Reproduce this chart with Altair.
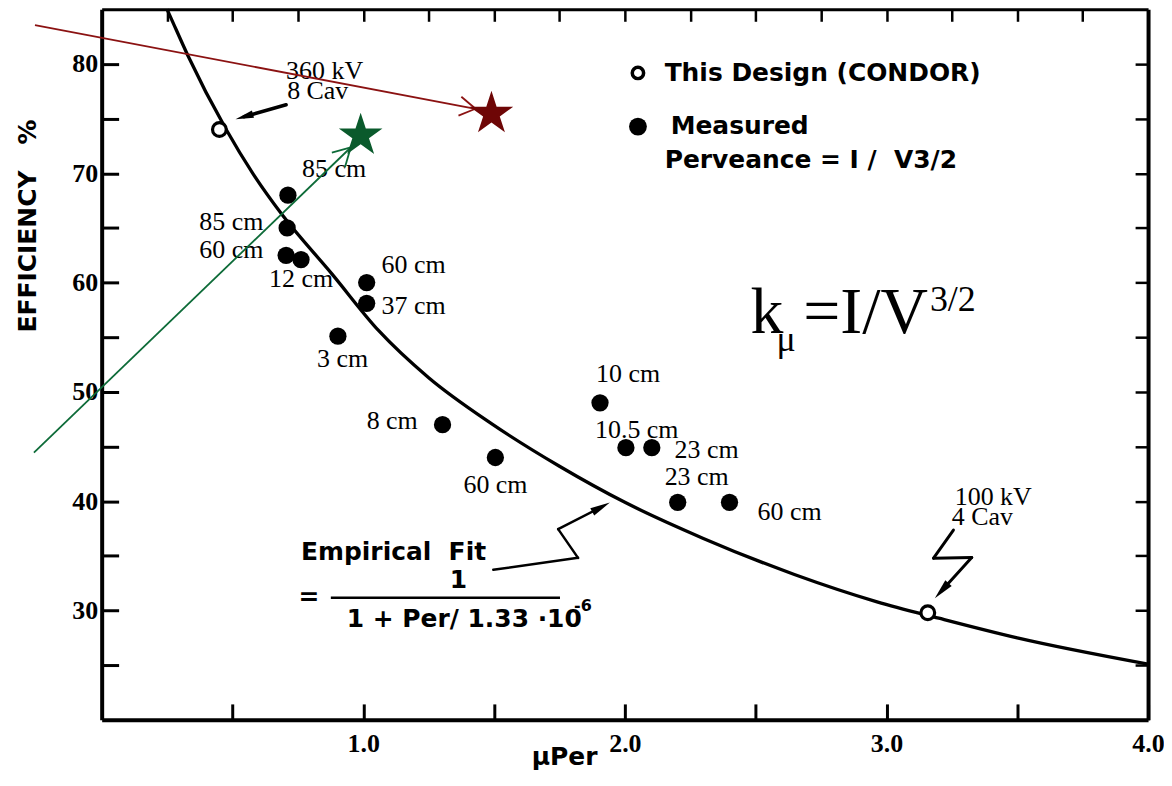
import altair as alt
import pandas as pd

# ---------------- data ----------------
# empirical fit curve
curve_x = [0.250, 0.265, 0.328, 0.476, 0.580, 0.690, 0.880, 1.059, 1.250, 1.490, 1.750, 2.000, 2.300, 2.648, 2.964, 3.200, 3.500, 4.000]
curve_y = [85.0, 84.2, 80.85, 74.0, 69.9, 66.2, 60.8, 55.6, 51.3, 47.1, 43.2, 39.9, 36.6, 33.3, 30.8, 29.3, 27.5, 25.1]

# measured tubes (filled dots)
measured_x = [0.712, 0.709, 0.705, 0.762, 1.013, 1.013, 0.903, 1.303, 1.505, 1.905, 2.004, 2.103, 2.202, 2.400]
measured_y = [68.0, 65.0, 62.5, 62.1, 60.0, 58.1, 55.1, 47.0, 44.0, 49.0, 44.9, 44.9, 39.9, 39.9]
measured_text = ["85 cm", "85 cm", "60 cm", "12 cm", "60 cm", "37 cm", "3 cm", "8 cm", "60 cm",
                 "10 cm", "10.5 cm", "23 cm", "23 cm", "60 cm"]
measured_lx = [0.766, 0.373, 0.373, 0.640, 1.070, 1.070, 0.823, 1.013, 1.383, 1.890, 1.886, 2.190, 2.152, 2.507]
measured_ly = [70.36, 65.55, 63.00, 60.36, 61.60, 57.90, 53.00, 47.36, 41.50, 51.60, 46.50, 44.70, 42.20, 39.00]

# this design (open circles)
design_x = [0.45, 3.158]
design_y = [74.0, 29.8]
design_text = ["360 kV", "8 Cav", "100 kV", "4 Cav"]
design_lx = [0.705, 0.709, 3.261, 3.250]
design_ly = [79.40, 77.55, 40.36, 38.55]

# axes ticks
x_bottom_ticks = [0.5, 1.0, 1.5, 2.0, 2.5, 3.0, 3.5, 4.0]
x_top_ticks = [0.25, 0.5, 0.75, 1.0, 1.25, 1.5, 1.75, 2.0, 2.25, 2.5, 2.75, 3.0, 3.25, 3.5, 3.75]
y_ticks = [25, 30, 35, 40, 45, 50, 55, 60, 65, 70, 75, 80]

NB = "\u00a0"
# legend
legend_mark_x = [2.05, 2.05]
legend_mark_y = [79.18, 74.27]
legend_text = ["This Design (CONDOR)", "Measured", "Perveance = I /" + NB + NB + "V3/2"]
legend_lx = [2.152, 2.175, 2.152]
legend_ly = [79.18, 74.36, 71.18]

# empirical fit annotation
fit_text = ["Empirical" + NB + NB + "Fit", "=", "1 + Per/ 1.33 \u00b710"]
fit_lx = [0.762, 0.752, 0.937]
fit_ly = [35.36, 31.27, 29.18]
fit_num_x, fit_num_y = [1.364], [32.80]
fit_exp_x, fit_exp_y = [1.806], [30.45]
fit_bar = {"x": [0.876], "y": [31.18], "x2": [1.752], "y2": [31.18]}

# k_mu = I/V^3/2 formula
kmu_big_text, kmu_big_x, kmu_big_y = ["k", "=I/V"], [2.480, 2.682], [55.36, 55.36]
kmu_small_text, kmu_small_x, kmu_small_y = ["\u03bc", "3/2"], [2.580, 3.166], [53.73, 57.36]

# black arrows (segments) and their heads
arrow_x1 = [0.705, 3.256, 3.180, 3.326, 1.497, 1.821, 1.745]
arrow_y1 = [76.27, 37.36, 34.79, 34.85, 33.73, 34.82, 37.45]
arrow_x2 = [0.545, 3.180, 3.326, 3.211, 1.821, 1.745, 1.909]
arrow_y2 = [75.18, 34.79, 34.85, 31.82, 34.82, 37.45, 39.45]
arrow_w = [3.5, 3.0, 3.0, 3.0, 2.5, 2.5, 2.5]
head_x = [0.545, 3.211, 1.909]
head_y = [75.18, 31.82, 39.45]
head_angle = [164, 132, 332]
head_size = [330, 420, 400]

# coloured overlay arrows and stars
red_x1 = [-0.255, 1.375, 1.364]
red_y1 = [83.55, 77.00, 75.27]
red_x2 = [1.429, 1.429, 1.429]
red_y2 = [75.90, 75.90, 75.90]
green_x1 = [-0.259, 0.880, 0.930]
green_y1 = [44.45, 71.90, 70.55]
green_x2 = [0.952, 0.952, 0.952]
green_y2 = [72.36, 72.36, 72.36]
star_x = [1.490, 0.990]
star_y = [75.45, 73.45]
star_color = ["#6e0606", "#0a5a2c"]

# ---------------- chart ----------------
SERIF = "Liberation Serif"
SANS = "DejaVu Sans"
xs = alt.Scale(domain=[0, 4], nice=False, zero=False)
ys = alt.Scale(domain=[20, 85], nice=False, zero=False)
STAR = ("M0,-1L0.2245,-0.309L0.951,-0.309L0.363,0.118L0.588,0.809L0,0.382"
        "L-0.588,0.809L-0.363,0.118L-0.951,-0.309L-0.2245,-0.309Z")
HEAD = "M1,0L-1,-0.42L-1,0.42Z"


def X(f="x"):
    return alt.X(f"{f}:Q", scale=xs, axis=None)


def Y(f="y"):
    return alt.Y(f"{f}:Q", scale=ys, axis=None)


def text_layer(xv, yv, tv, font, size, weight="normal", align="left", baseline="middle", color="black"):
    df = pd.DataFrame({"x": xv, "y": yv, "t": tv})
    return alt.Chart(df).mark_text(font=font, fontSize=size, fontWeight=weight, align=align,
                                   baseline=baseline, color=color).encode(x=X(), y=Y(), text="t:N")


curve_df = pd.DataFrame({"x": curve_x, "y": curve_y})

x_bottom_axis = alt.Axis(
    orient="bottom", values=x_bottom_ticks,
    labelExpr="datum.value % 1 === 0 ? format(datum.value, '.1f') : ''",
    tickSize={"expr": "-16"}, tickWidth=3, tickColor="black",
    domainWidth=4, domainColor="black", grid=False,
    labelFont=SERIF, labelFontWeight="bold", labelFontSize=26, labelColor="black",
    labelPadding=40, labelBaseline="middle", labelFlush=False, labelOverlap=False,
    title="\u03bcPer", titleFont=SANS, titleFontWeight="bold", titleFontSize=25, titleColor="black",
    titleX=464, titleY=37, titleAlign="center", titleBaseline="middle",
)
y_left_axis = alt.Axis(
    orient="left", values=y_ticks,
    labelExpr="datum.value % 10 === 0 ? format(datum.value, 'd') : ''",
    tickSize={"expr": "-17"}, tickWidth=3, tickColor="black",
    domainWidth=4, domainColor="black", grid=False,
    labelFont=SERIF, labelFontWeight="bold", labelFontSize=26, labelColor="black",
    labelPadding=21, labelFlush=False, labelOverlap=False,
    title="EFFICIENCY" + NB + NB + NB + "%", titleFont=SANS, titleFontWeight="bold", titleFontSize=25,
    titleColor="black",
    titleAngle=270, titleX=-74, titleY=217, titleAlign="center", titleBaseline="middle",
)
x_top_axis = alt.Axis(orient="top", values=x_top_ticks, labels=False, title=None,
                      tickSize={"expr": "-12"}, tickWidth=2.5, tickColor="black",
                      domainWidth=3, domainColor="black", grid=False)
y_right_axis = alt.Axis(orient="right", values=y_ticks, labels=False, title=None,
                        tickSize={"expr": "-13"}, tickWidth=2.5, tickColor="black",
                        domainWidth=4, domainColor="black", grid=False)

curve = alt.Chart(curve_df).mark_line(color="black", strokeWidth=3.3, interpolate="monotone").encode(
    x=alt.X("x:Q", scale=xs, axis=x_bottom_axis),
    y=alt.Y("y:Q", scale=ys, axis=y_left_axis),
)
frame = alt.Chart(curve_df).mark_point(opacity=0).encode(
    x=alt.X("x:Q", scale=xs, axis=x_top_axis),
    y=alt.Y("y:Q", scale=ys, axis=y_right_axis),
)

measured = alt.Chart(pd.DataFrame({"x": measured_x, "y": measured_y})).mark_point(
    shape="circle", filled=True, color="black", size=300, opacity=1).encode(x=X(), y=Y())
design = alt.Chart(pd.DataFrame({"x": design_x, "y": design_y})).mark_point(
    shape="circle", filled=True, fill="white", stroke="black", strokeWidth=3.2, size=190, opacity=1
).encode(x=X(), y=Y())

legend_open = alt.Chart(pd.DataFrame({"x": legend_mark_x[:1], "y": legend_mark_y[:1]})).mark_point(
    shape="circle", filled=True, fill="white", stroke="black", strokeWidth=3.5, size=130, opacity=1
).encode(x=X(), y=Y())
legend_fill = alt.Chart(pd.DataFrame({"x": legend_mark_x[1:], "y": legend_mark_y[1:]})).mark_point(
    shape="circle", filled=True, color="black", size=320, opacity=1).encode(x=X(), y=Y())

arrows = alt.Chart(pd.DataFrame({"x": arrow_x1, "y": arrow_y1, "x2": arrow_x2, "y2": arrow_y2, "w": arrow_w})
                   ).mark_rule(color="black", strokeCap="round").encode(
    x=X(), y=Y(), x2="x2:Q", y2="y2:Q", strokeWidth=alt.StrokeWidth("w:Q", scale=None))
heads = alt.Chart(pd.DataFrame({"x": head_x, "y": head_y, "a": head_angle, "s": head_size})).mark_point(
    shape=HEAD, filled=True, color="black", opacity=1).encode(
    x=X(), y=Y(), angle=alt.Angle("a:Q", scale=None), size=alt.Size("s:Q", scale=None))

fit_rule = alt.Chart(pd.DataFrame(fit_bar)).mark_rule(color="black", strokeWidth=2.5).encode(
    x=X(), y=Y(), x2="x2:Q", y2="y2:Q")

red = alt.Chart(pd.DataFrame({"x": red_x1, "y": red_y1, "x2": red_x2, "y2": red_y2})).mark_rule(
    color="#8b1212", strokeWidth=1.8).encode(x=X(), y=Y(), x2="x2:Q", y2="y2:Q")
green = alt.Chart(pd.DataFrame({"x": green_x1, "y": green_y1, "x2": green_x2, "y2": green_y2})).mark_rule(
    color="#0d6b38", strokeWidth=1.8).encode(x=X(), y=Y(), x2="x2:Q", y2="y2:Q")
stars = alt.Chart(pd.DataFrame({"x": star_x, "y": star_y, "c": star_color})).mark_point(
    shape=STAR, filled=True, size=2116, opacity=1).encode(
    x=X(), y=Y(), color=alt.Color("c:N", scale=None))

layers = [
    curve, frame, measured, design, legend_open, legend_fill, arrows, heads, fit_rule,
    text_layer(measured_lx, measured_ly, measured_text, SERIF, 26),
    text_layer(design_lx, design_ly, design_text, SERIF, 26),
    text_layer(legend_lx, legend_ly, legend_text, SANS, 25, weight="bold"),
    text_layer(fit_lx, fit_ly, fit_text, SANS, 25, weight="bold"),
    text_layer(fit_num_x, fit_num_y, ["1"], SANS, 25, weight="bold", align="center"),
    text_layer(fit_exp_x, fit_exp_y, ["-6"], SANS, 16, weight="bold"),
    text_layer(kmu_big_x, kmu_big_y, kmu_big_text, SERIF, 66, baseline="alphabetic"),
    text_layer(kmu_small_x, kmu_small_y, kmu_small_text, SERIF, 36, baseline="alphabetic"),
    red, green, stars,
]

chart = alt.layer(*layers).resolve_axis(x="independent", y="independent").properties(
    width=1050, height=713,
    padding={"left": 94, "top": 0, "right": 16, "bottom": 51},
    autosize=alt.AutoSizeParams(type="none"),
    background="white",
).configure_view(stroke=None)

chart.save("out.html", embed_options={"renderer": "svg", "actions": False})
